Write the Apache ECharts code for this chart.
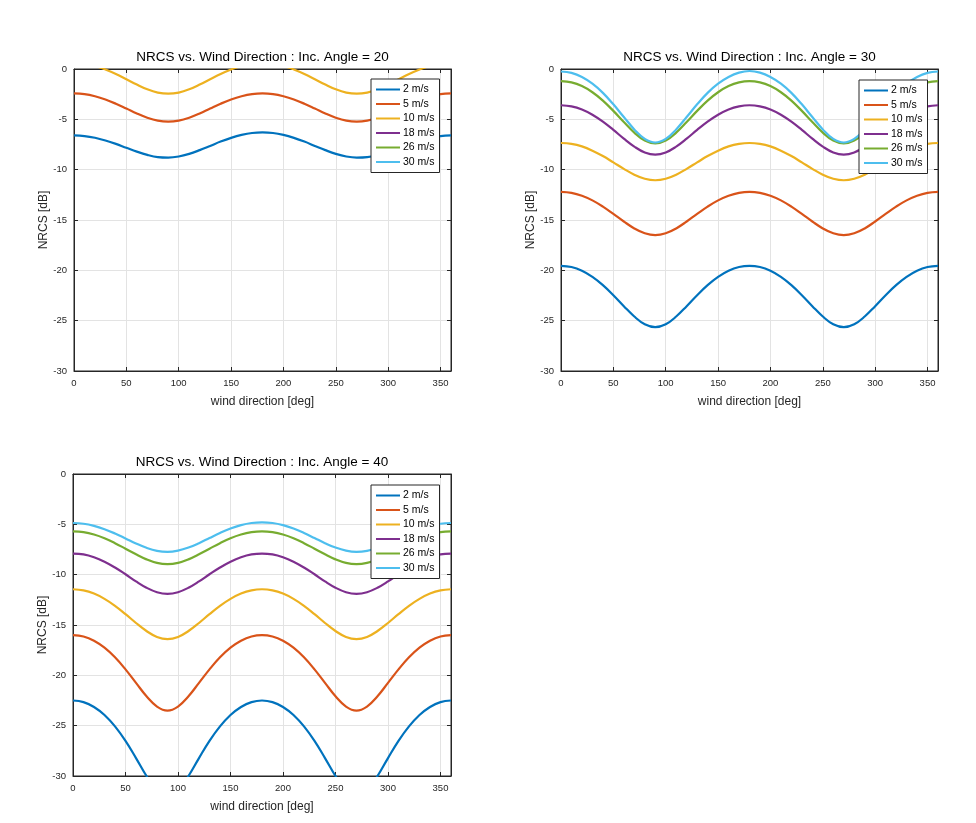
<!DOCTYPE html>
<html>
<head>
<meta charset="utf-8">
<script src="https://cdn.jsdelivr.net/npm/echarts/dist/echarts.min.js"></script>
<style>
html,body{margin:0;padding:0;background:#fff;}
#chart{width:976px;height:823px;}
</style>
</head>
<body>
<div id="chart"></div>
<script>
// wind direction samples [deg]
var angles = [0,10,20,30,40,50,60,70,80,90,100,110,120,130,140,150,160,170,180,190,200,210,220,230,240,250,260,270,280,290,300,310,320,330,340,350,360];
var speedNames = ['2 m/s','5 m/s','10 m/s','18 m/s','26 m/s','30 m/s'];
var xTicks = [0,50,100,150,200,250,300,350];
var yTicks = [-30,-25,-20,-15,-10,-5,0];

// Inc. Angle = 20
var inc20_2  = [-6.6,-6.66,-6.83,-7.10,-7.44,-7.83,-8.21,-8.53,-8.75,-8.8,-8.69,-8.43,-8.06,-7.64,-7.21,-6.84,-6.55,-6.36,-6.3,-6.36,-6.55,-6.84,-7.21,-7.64,-8.06,-8.43,-8.69,-8.8,-8.75,-8.53,-8.21,-7.83,-7.44,-7.10,-6.83,-6.66,-6.6];
var inc20_5  = [-2.43,-2.50,-2.71,-3.03,-3.45,-3.93,-4.42,-4.84,-5.13,-5.23,-5.13,-4.84,-4.42,-3.93,-3.45,-3.03,-2.71,-2.50,-2.43,-2.50,-2.71,-3.03,-3.45,-3.93,-4.42,-4.84,-5.13,-5.23,-5.13,-4.84,-4.42,-3.93,-3.45,-3.03,-2.71,-2.50,-2.43];
var inc20_10 = [0.6,0.53,0.31,-0.05,-0.50,-1.02,-1.55,-2.02,-2.34,-2.45,-2.34,-2.02,-1.55,-1.02,-0.50,-0.05,0.31,0.53,0.6,0.53,0.31,-0.05,-0.50,-1.02,-1.55,-2.02,-2.34,-2.45,-2.34,-2.02,-1.55,-1.02,-0.50,-0.05,0.31,0.53,0.6];
var inc20_18 = [3.5,3.42,3.2,2.85,2.4,1.9,1.35,0.85,0.45,0.3,0.45,0.85,1.35,1.9,2.4,2.85,3.2,3.42,3.5,3.42,3.2,2.85,2.4,1.9,1.35,0.85,0.45,0.3,0.45,0.85,1.35,1.9,2.4,2.85,3.2,3.42,3.5];
var inc20_26 = [4.7,4.62,4.4,4.05,3.6,3.1,2.55,2.05,1.65,1.5,1.65,2.05,2.55,3.1,3.6,4.05,4.4,4.62,4.7,4.62,4.4,4.05,3.6,3.1,2.55,2.05,1.65,1.5,1.65,2.05,2.55,3.1,3.6,4.05,4.4,4.62,4.7];
var inc20_30 = [5.1,5.02,4.8,4.45,4.0,3.5,2.95,2.45,2.05,1.9,2.05,2.45,2.95,3.5,4.0,4.45,4.8,5.02,5.1,5.02,4.8,4.45,4.0,3.5,2.95,2.45,2.05,1.9,2.05,2.45,2.95,3.5,4.0,4.45,4.8,5.02,5.1];

// Inc. Angle = 30
var inc30_2  = [-19.55,-19.67,-20.04,-20.65,-21.47,-22.47,-23.56,-24.59,-25.36,-25.65,-25.36,-24.59,-23.56,-22.47,-21.47,-20.65,-20.04,-19.67,-19.55,-19.67,-20.04,-20.65,-21.47,-22.47,-23.56,-24.59,-25.36,-25.65,-25.36,-24.59,-23.56,-22.47,-21.47,-20.65,-20.04,-19.67,-19.55];
var inc30_5  = [-12.2,-12.3,-12.59,-13.05,-13.67,-14.4,-15.15,-15.84,-16.32,-16.5,-16.32,-15.84,-15.15,-14.4,-13.67,-13.05,-12.59,-12.3,-12.2,-12.3,-12.59,-13.05,-13.67,-14.4,-15.15,-15.84,-16.32,-16.5,-16.32,-15.84,-15.15,-14.4,-13.67,-13.05,-12.59,-12.3,-12.2];
var inc30_10 = [-7.35,-7.44,-7.69,-8.11,-8.65,-9.28,-9.92,-10.5,-10.9,-11.05,-10.9,-10.5,-9.92,-9.28,-8.65,-8.11,-7.69,-7.44,-7.35,-7.44,-7.69,-8.11,-8.65,-9.28,-9.92,-10.5,-10.9,-11.05,-10.9,-10.5,-9.92,-9.28,-8.65,-8.11,-7.69,-7.44,-7.35];
var inc30_18 = [-3.6,-3.71,-4.02,-4.54,-5.23,-6.05,-6.92,-7.71,-8.29,-8.5,-8.29,-7.71,-6.92,-6.05,-5.23,-4.54,-4.02,-3.71,-3.6,-3.71,-4.02,-4.54,-5.23,-6.05,-6.92,-7.71,-8.29,-8.5,-8.29,-7.71,-6.92,-6.05,-5.23,-4.54,-4.02,-3.71,-3.6];
var inc30_26 = [-1.2,-1.33,-1.7,-2.31,-3.14,-4.16,-5.26,-6.32,-7.11,-7.4,-7.11,-6.32,-5.26,-4.16,-3.14,-2.31,-1.7,-1.33,-1.2,-1.33,-1.7,-2.31,-3.14,-4.16,-5.26,-6.32,-7.11,-7.4,-7.11,-6.32,-5.26,-4.16,-3.14,-2.31,-1.7,-1.33,-1.2];
var inc30_30 = [-0.25,-0.39,-0.79,-1.46,-2.37,-3.51,-4.77,-6.0,-6.94,-7.3,-6.94,-6.0,-4.77,-3.51,-2.37,-1.46,-0.79,-0.36,-0.2,-0.36,-0.79,-1.46,-2.37,-3.51,-4.77,-6.0,-6.94,-7.3,-6.94,-6.0,-4.77,-3.51,-2.37,-1.46,-0.79,-0.39,-0.25];

// Inc. Angle = 40
var inc40_2  = [-22.5,-22.66,-23.14,-23.94,-25.07,-26.51,-28.22,-30.0,-31.47,-32.07,-31.47,-30.0,-28.22,-26.51,-25.07,-23.94,-23.14,-22.66,-22.5,-22.66,-23.14,-23.94,-25.07,-26.51,-28.22,-30.0,-31.47,-32.07,-31.47,-30.0,-28.22,-26.51,-25.07,-23.94,-23.14,-22.66,-22.5];
var inc40_5  = [-16.0,-16.14,-16.56,-17.25,-18.21,-19.41,-20.75,-22.08,-23.1,-23.5,-23.1,-22.08,-20.75,-19.41,-18.21,-17.25,-16.56,-16.14,-16.0,-16.14,-16.56,-17.25,-18.21,-19.41,-20.75,-22.08,-23.1,-23.5,-23.1,-22.08,-20.75,-19.41,-18.21,-17.25,-16.56,-16.14,-16.0];
var inc40_10 = [-11.45,-11.56,-11.88,-12.4,-13.09,-13.92,-14.8,-15.6,-16.19,-16.4,-16.19,-15.6,-14.8,-13.92,-13.09,-12.4,-11.88,-11.56,-11.45,-11.56,-11.88,-12.4,-13.09,-13.92,-14.8,-15.6,-16.19,-16.4,-16.19,-15.6,-14.8,-13.92,-13.09,-12.4,-11.88,-11.56,-11.45];
var inc40_18 = [-7.9,-7.99,-8.27,-8.71,-9.29,-9.96,-10.67,-11.3,-11.74,-11.9,-11.74,-11.3,-10.67,-9.96,-9.29,-8.71,-8.27,-7.99,-7.9,-7.99,-8.27,-8.71,-9.29,-9.96,-10.67,-11.3,-11.74,-11.9,-11.74,-11.3,-10.67,-9.96,-9.29,-8.71,-8.27,-7.99,-7.9];
var inc40_26 = [-5.7,-5.78,-6.01,-6.38,-6.87,-7.42,-7.98,-8.48,-8.83,-8.95,-8.83,-8.48,-7.98,-7.42,-6.87,-6.38,-6.01,-5.78,-5.7,-5.78,-6.01,-6.38,-6.87,-7.42,-7.98,-8.48,-8.83,-8.95,-8.83,-8.48,-7.98,-7.42,-6.87,-6.38,-6.01,-5.78,-5.7];
var inc40_30 = [-4.87,-4.94,-5.15,-5.48,-5.91,-6.40,-6.90,-7.33,-7.63,-7.73,-7.61,-7.31,-6.87,-6.36,-5.86,-5.42,-5.08,-4.87,-4.8,-4.87,-5.08,-5.42,-5.86,-6.36,-6.87,-7.31,-7.61,-7.73,-7.63,-7.33,-6.90,-6.40,-5.91,-5.48,-5.15,-4.94,-4.87];

var panelTitles = ['NRCS vs. Wind Direction : Inc. Angle = 20','NRCS vs. Wind Direction : Inc. Angle = 30','NRCS vs. Wind Direction : Inc. Angle = 40'];
var panelData = [
  [inc20_2,inc20_5,inc20_10,inc20_18,inc20_26,inc20_30],
  [inc30_2,inc30_5,inc30_10,inc30_18,inc30_26,inc30_30],
  [inc40_2,inc40_5,inc40_10,inc40_18,inc40_26,inc40_30]
];
var colors = ['#0072BD','#D95319','#EDB120','#7E2F8E','#77AC30','#4DBEEE'];

var FONT = 'Liberation Sans, Arial, sans-serif';
var AXC = '#262626';
var GRIDC = '#e3e3e3';

var grids = [
  {left:74, top:69, width:377, height:302},
  {left:561, top:69, width:377, height:302},
  {left:73, top:474, width:378, height:302}
];
var titlePos = [{x:262.5, y:50},{x:749.5, y:50},{x:262, y:455}];
var legendPos = [{x:371, y:79},{x:859, y:80},{x:371, y:485}];

var option = {
  backgroundColor:'#ffffff',
  animation:false,
  color: colors,
  title: [], grid: [], xAxis: [], yAxis: [], legend: [], series: []
};

for (var p=0;p<3;p++){
  option.title.push({
    text: panelTitles[p], left: titlePos[p].x, top: titlePos[p].y, textAlign:'center', padding:0,
    textStyle:{fontFamily:FONT, fontSize:13.5, fontWeight:'normal', color:'#000'}
  });
  option.grid.push({left:grids[p].left, top:grids[p].top, width:grids[p].width, height:grids[p].height,
    show:true, borderColor:AXC, borderWidth:1, backgroundColor:'#fff'});
  option.xAxis.push({
    type:'value', gridIndex:p, min:0, max:360, interval:50, position:'bottom',
    name:'wind direction [deg]', nameLocation:'middle', nameGap:25,
    nameTextStyle:{fontFamily:FONT, fontSize:12, color:AXC},
    axisLine:{show:true, onZero:false, lineStyle:{color:AXC, width:1}},
    axisTick:{show:true, inside:true, length:4, lineStyle:{color:AXC}},
    axisLabel:{fontFamily:FONT, fontSize:9.5, color:AXC, margin:7, showMaxLabel:false},
    splitLine:{show:true, lineStyle:{color:GRIDC, width:1}}
  });
  option.xAxis.push({
    type:'value', gridIndex:p, min:0, max:360, interval:50, position:'top',
    axisLine:{show:true, onZero:false, lineStyle:{color:AXC, width:1}},
    axisTick:{show:true, inside:true, length:4, lineStyle:{color:AXC}},
    axisLabel:{show:false}, splitLine:{show:false}
  });
  option.yAxis.push({
    type:'value', gridIndex:p, min:-30, max:0, interval:5, position:'left',
    name:'NRCS [dB]', nameLocation:'middle', nameGap:24.5, nameRotate:90,
    nameTextStyle:{fontFamily:FONT, fontSize:12, color:AXC},
    axisLine:{show:true, onZero:false, lineStyle:{color:AXC, width:1}},
    axisTick:{show:true, inside:true, length:4, lineStyle:{color:AXC}},
    axisLabel:{fontFamily:FONT, fontSize:9.5, color:AXC, margin:7},
    splitLine:{show:true, lineStyle:{color:GRIDC, width:1}}
  });
  option.yAxis.push({
    type:'value', gridIndex:p, min:-30, max:0, interval:5, position:'right',
    axisLine:{show:true, onZero:false, lineStyle:{color:AXC, width:1}},
    axisTick:{show:true, inside:true, length:4, lineStyle:{color:AXC}},
    axisLabel:{show:false}, splitLine:{show:false}
  });
  option.legend.push({
    orient:'vertical', left:legendPos[p].x, top:legendPos[p].y,
    padding:[5,5,5,5], itemGap:3.5, itemWidth:24, itemHeight:2,
    backgroundColor:'#fff', borderColor:AXC, borderWidth:1,
    icon:'rect', selectedMode:false,
    data: speedNames.slice(),
    textStyle:{fontFamily:FONT, fontSize:10.5, color:'#000', lineHeight:11, padding:[0,0,0,-2]}
  });
  for (var s=0;s<6;s++){
    var vals = panelData[p][s];
    var d = [];
    for (var i=0;i<angles.length;i++) d.push([angles[i], vals[i]]);
    option.series.push({
      type:'line', name:speedNames[s], xAxisIndex:2*p, yAxisIndex:2*p,
      data:d, smooth:0.4, showSymbol:false, clip:true,
      lineStyle:{width:2.2, color:colors[s]}, itemStyle:{color:colors[s]}
    });
  }
}

var chart = echarts.init(document.getElementById('chart'), null, {renderer:'canvas'});
chart.setOption(option);
</script>
</body>
</html>
